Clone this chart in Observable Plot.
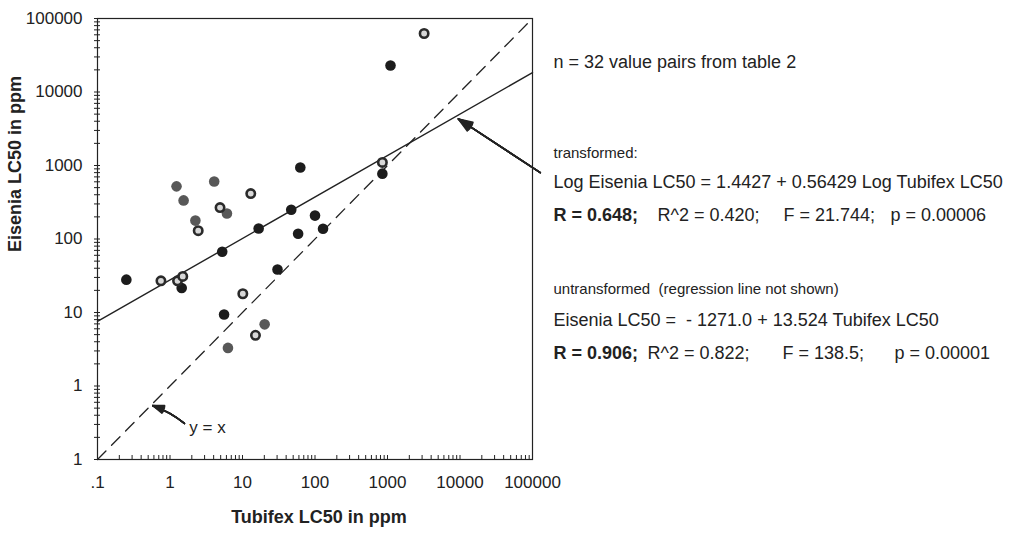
<!DOCTYPE html>
<html><head><meta charset="utf-8">
<script src="https://cdn.jsdelivr.net/npm/d3@7"></script>
<script src="https://cdn.jsdelivr.net/npm/@observablehq/plot@0.6"></script>
<style>body{margin:0;background:#fff;} svg{display:block;}</style>
</head><body><div id="chart"></div>
<script>
// Data (Tubifex LC50 vs Eisenia LC50, ppm)
const tubifex = [0.25, 0.75, 1.27, 1.5, 1.45, 1.23, 1.54, 2.24, 2.45, 4.07, 4.9, 6.1, 13, 5.25, 16.7, 5.57, 6.3, 10.1, 15.1, 20.2, 30.4, 47, 58.5, 62.7, 100, 129, 850, 850, 1100, 3200];
const eisenia = [28, 27, 27, 31, 21.5, 520, 335, 178, 130, 605, 268, 222, 415, 67, 139, 9.4, 3.3, 18, 4.9, 6.9, 38.5, 250, 118, 940, 208, 138, 1100, 775, 22900, 62500];
const pointStyle = ["black","ring","ring","ring","black","gray","gray","gray","ring","gray","ring","gray","ring","black","black","black","gray","ring","ring","gray","black","black","black","black","black","black","ring","black","black","ring"];

const majorTicks = [0.1, 1, 10, 100, 1000, 10000, 100000];
const xTickLabels = [".1", "1", "10", "100", "1000", "10000", "100000"];
const yTickLabels = ["1", "1", "10", "100", "1000", "10000", "100000"];
const minorMultipliers = [2, 3, 4, 5, 6, 7, 8, 9];

// Regression (log-transformed): Log Eisenia = a + b Log Tubifex
const regIntercept = 1.4427;
const regSlope = 0.56429;
const domainLC = [0.1, 100000];

// Annotation arrows (data units)
const arrowReg = {x1: 128000, y1: 800, x2: 9500, y2: 4300};
const arrowYX = {x1: 1.58, y1: 0.31, x2: 0.58, y2: 0.54};
const labelYX = {x: 1.85, y: 0.272, text: "y = x"};

const infoLines = [
  {text: "n = 32 value pairs from table 2", dx: 21, dy: 37, size: 18, weight: "normal"},
  {text: "transformed:", dx: 21, dy: 129, size: 15, weight: "normal"},
  {text: "Log Eisenia LC50 = 1.4427 + 0.56429 Log Tubifex LC50", dx: 21, dy: 157, size: 18, weight: "normal"},
  {text: "R = 0.648;", dx: 21, dy: 190, size: 18, weight: "bold"},
  {text: "R^2 = 0.420;", dx: 125, dy: 190, size: 18, weight: "normal"},
  {text: "F = 21.744;", dx: 251, dy: 190, size: 18, weight: "normal"},
  {text: "p = 0.00006", dx: 358, dy: 190, size: 18, weight: "normal"},
  {text: "untransformed\u00a0 (regression line not shown)", dx: 21, dy: 265, size: 15, weight: "normal"},
  {text: "Eisenia LC50 =\u00a0 - 1271.0 + 13.524 Tubifex LC50", dx: 21, dy: 295, size: 18, weight: "normal"},
  {text: "R = 0.906;", dx: 21, dy: 328, size: 18, weight: "bold"},
  {text: "R^2 = 0.822;", dx: 115, dy: 328, size: 18, weight: "normal"},
  {text: "F = 138.5;", dx: 250, dy: 328, size: 18, weight: "normal"},
  {text: "p = 0.00001", dx: 362, dy: 328, size: 18, weight: "normal"}
];

const points = tubifex.map((t, i) => ({t, e: eisenia[i], s: pointStyle[i]}));
const regLine = domainLC.map(x => ({x, y: Math.pow(10, regIntercept + regSlope * Math.log10(x))}));
const idLine = domainLC.map(v => ({x: v, y: v}));
const allTicks = majorTicks.slice(0, -1).flatMap(m => [m, ...minorMultipliers.map(k => k * m)]).concat([majorTicks[majorTicks.length - 1]]);
const fmtX = d => { const i = majorTicks.indexOf(d); return i >= 0 ? xTickLabels[i] : ""; };
const fmtY = d => { const i = majorTicks.indexOf(d); return i >= 0 ? yTickLabels[i] : ""; };

const ink = "#222";
const headAngles = [8, 16, 24, 32, 40];

const marks = [
  Plot.frame({stroke: ink, strokeWidth: 1.2}),
  Plot.axisX({ticks: allTicks, tickFormat: () => "", tickSize: -4, stroke: ink}),
  Plot.axisX({ticks: majorTicks, tickFormat: fmtX, tickSize: 0, tickPadding: 16, fontSize: 17, fill: ink}),
  Plot.axisY({ticks: allTicks, tickFormat: () => "", tickSize: 3, stroke: ink}),
  Plot.axisY({ticks: allTicks, tickFormat: () => "", tickSize: -3, stroke: ink}),
  Plot.axisY({ticks: majorTicks, tickFormat: fmtY, tickSize: 0, tickPadding: 15, fontSize: 17, fill: ink}),
  Plot.line(idLine, {x: "x", y: "y", stroke: ink, strokeWidth: 1.3, strokeDasharray: "12,8"}),
  Plot.line(regLine, {x: "x", y: "y", stroke: ink, strokeWidth: 1.4}),
  Plot.dot(points.filter(d => d.s === "black"), {x: "t", y: "e", r: 5.3, fill: "#1c1c1c", stroke: "none"}),
  Plot.dot(points.filter(d => d.s === "gray"), {x: "t", y: "e", r: 5.3, fill: "#585858", stroke: "none"}),
  Plot.dot(points.filter(d => d.s === "ring"), {x: "t", y: "e", r: 4.2, fill: "#d8d8d8", stroke: "#2a2a2a", strokeWidth: 2.6}),
  ...headAngles.map(a => Plot.arrow([arrowReg], {x1: "x1", y1: "y1", x2: "x2", y2: "y2", stroke: ink, strokeWidth: 1.6, headLength: 14, headAngle: a})),
  ...headAngles.map(a => Plot.arrow([arrowYX], {x1: "x1", y1: "y1", x2: "x2", y2: "y2", stroke: ink, strokeWidth: 1.6, headLength: 11, headAngle: a, bend: -10})),
  Plot.text([labelYX], {x: "x", y: "y", text: "text", textAnchor: "start", fontSize: 17, fill: ink}),
  Plot.text(["Tubifex LC50 in ppm"], {text: d => d, frameAnchor: "bottom", dx: 4, dy: 63, fontSize: 18, fontWeight: "bold", fill: ink}),
  Plot.text(["Eisenia LC50 in ppm"], {text: d => d, frameAnchor: "left", dx: -82, dy: 13, rotate: -90, fontSize: 18, fontWeight: "bold", fill: ink}),
  ...infoLines.map(l => Plot.text([l], {text: "text", frameAnchor: "top-right", dx: l.dx, dy: l.dy, textAnchor: "start", fontSize: l.size, fontWeight: l.weight, fill: ink}))
];

const chart = Plot.plot({
  width: 1025,
  height: 536,
  marginLeft: 97,
  marginRight: 493,
  marginTop: 18,
  marginBottom: 77,
  style: {fontFamily: "'Liberation Sans', Arial, Helvetica, sans-serif", background: "#fff", color: ink},
  x: {type: "log", domain: domainLC},
  y: {type: "log", domain: domainLC},
  marks
});
document.getElementById("chart").appendChild(chart);
</script>
</body></html>
